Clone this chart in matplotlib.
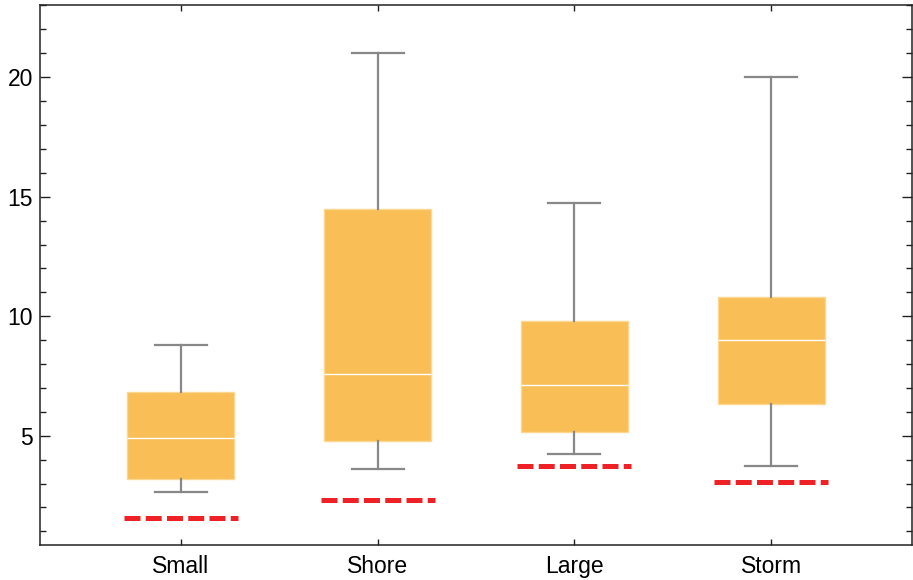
import matplotlib
matplotlib.use("Agg")
import matplotlib.pyplot as plt
from matplotlib.ticker import MultipleLocator

plt.rcParams['font.family'] = ['Liberation Sans', 'DejaVu Sans']
plt.rcParams['lines.scale_dashes'] = False

categories = ["Small", "Shore", "Large", "Storm"]
whisker_low = [2.65, 3.62, 4.25, 3.74]
q1 = [3.20, 4.79, 5.17, 6.34]
median = [4.92, 7.60, 7.14, 9.02]
q3 = [6.84, 14.47, 9.82, 10.82]
whisker_high = [8.81, 21.0, 14.72, 20.0]
reference = [1.55, 2.32, 3.74, 3.07]

fig = plt.figure(figsize=(9.13, 5.80), dpi=100)
ax = fig.add_axes([40/913, 35/580, 872/913, 540/580])

stats = []
for i, c in enumerate(categories):
    stats.append(dict(label=c, whislo=whisker_low[i], q1=q1[i], med=median[i],
                      q3=q3[i], whishi=whisker_high[i], fliers=[]))

positions = list(range(1, len(categories) + 1))
ax.bxp(stats, positions=positions, widths=0.543, capwidths=0.265,
       patch_artist=True, showfliers=False,
       boxprops=dict(facecolor='#F9BE55', edgecolor='#FCD78F', linewidth=1.0),
       medianprops=dict(color='white', linewidth=1.0),
       whiskerprops=dict(color='#888888', linewidth=1.6),
       capprops=dict(color='#888888', linewidth=1.6))

for p, r in zip(positions, reference):
    ax.plot([p - 0.29, p + 0.29], [r, r], color='#EE2127', linewidth=3.6,
            dashes=(11.5, 3.8), solid_capstyle='butt', dash_capstyle='butt')

ax.set_xlim(0.284, 4.716)
ax.set_ylim(0.43, 23.02)
ax.set_xticks(positions)
ax.set_xticklabels(categories)
ax.yaxis.set_major_locator(MultipleLocator(5))
ax.yaxis.set_minor_locator(MultipleLocator(1))
ax.set_yticks([5, 10, 15, 20])

ax.tick_params(axis='y', which='major', direction='in', length=7.2, width=1.0,
               left=True, right=True, labelsize=16.5, pad=5, color='#222222')
ax.tick_params(axis='y', which='minor', direction='in', length=4.3, width=1.0,
               left=True, right=True, color='#222222')
ax.tick_params(axis='x', which='major', direction='in', length=4.5, width=1.0,
               top=True, bottom=True, labelsize=16.5, pad=7, color='#222222')
ax.tick_params(axis='x', which='minor', bottom=False, top=False)

for s in ax.spines.values():
    s.set_linewidth(1.1)
    s.set_color('#222222')

fig.savefig("out.png", dpi=100)
